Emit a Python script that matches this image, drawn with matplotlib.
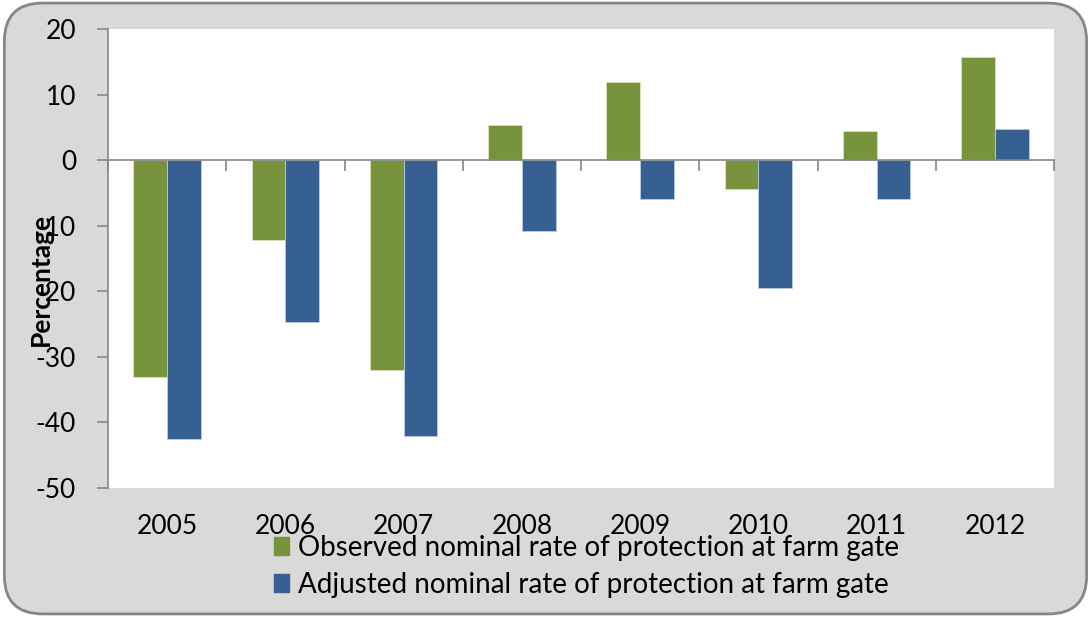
import matplotlib
matplotlib.use("Agg")
import matplotlib.pyplot as plt
import numpy as np
from matplotlib.patches import FancyBboxPatch
from matplotlib.transforms import blended_transform_factory

years = ["2005", "2006", "2007", "2008", "2009", "2010", "2011", "2012"]
observed = [-33.0, -12.2, -32.0, 5.3, 11.9, -4.4, 4.4, 15.7]
adjusted = [-42.6, -24.7, -42.1, -10.8, -6.0, -19.5, -6.0, 4.7]
series_names = ["Observed nominal rate of protection at farm gate",
                "Adjusted nominal rate of protection at farm gate"]
yticks = [20, 10, 0, -10, -20, -30, -40, -50]

GREEN = "#77933C"
BLUE = "#366092"
BG = "#D9D9D9"
AXIS = "#868686"

plt.rcParams["font.family"] = ["Lato", "DejaVu Sans"]

fig = plt.figure(figsize=(10.91, 6.17), dpi=100)
fig.patch.set_facecolor("white")
frame = FancyBboxPatch((0.004, 0.005), 0.992, 0.99,
                       boxstyle="round,pad=0,rounding_size=0.035",
                       transform=fig.transFigure, facecolor=BG,
                       edgecolor=AXIS, linewidth=2.0, mutation_aspect=1091/617,
                       zorder=-10)
fig.patches.append(frame)

ax = fig.add_axes([108/1091, 1 - 488/617, (1054-108)/1091, (488-29)/617])
ax.set_facecolor("white")

x = np.arange(len(years))
w = 1 / 3.5
ax.bar(x - w/2, observed, width=w, color=GREEN, edgecolor="#D7E4BD", linewidth=0.6, zorder=2)
ax.bar(x + w/2, adjusted, width=w, color=BLUE, edgecolor="#B9CDE5", linewidth=0.6, zorder=2)

ax.set_xlim(-0.5, len(years) - 0.5)
ax.set_ylim(-50, 20)

for s in ["top", "right"]:
    ax.spines[s].set_visible(False)
ax.spines["left"].set_color(AXIS)
ax.spines["left"].set_linewidth(1.2)
ax.spines["bottom"].set_position(("data", 0))
ax.spines["bottom"].set_color(AXIS)
ax.spines["bottom"].set_linewidth(1.2)

ax.set_yticks(yticks)
ax.set_yticklabels([str(v) for v in yticks], fontsize=19)
ax.tick_params(axis="y", length=8, width=1.2, color=AXIS, pad=15)
ax.set_xticks(np.arange(len(years) + 1) - 0.5)
ax.set_xticklabels([])
ax.tick_params(axis="x", length=8, width=1.2, color=AXIS, direction="out")

# Category labels sit below the plot area, as the axis line runs through zero
trans = blended_transform_factory(ax.transData, ax.transAxes)
for xi, yr in zip(x, years):
    ax.text(xi, -0.083, yr, transform=trans, ha="center", va="center", fontsize=19)

ax.set_ylabel("Percentage", fontsize=19, fontweight="bold")
ax.yaxis.set_label_coords(-0.058, 0.455)

handles = [plt.Rectangle((0, 0), 1, 1, color=GREEN), plt.Rectangle((0, 0), 1, 1, color=BLUE)]
fig.legend(handles, series_names, loc="upper left",
           bbox_to_anchor=(274/1091, 1 - 535/617), frameon=False, fontsize=20,
           handlelength=0.55, handleheight=0.6, handletextpad=0.3, labelspacing=0.38,
           borderaxespad=0, borderpad=0)

fig.savefig("out.png", dpi=100)
